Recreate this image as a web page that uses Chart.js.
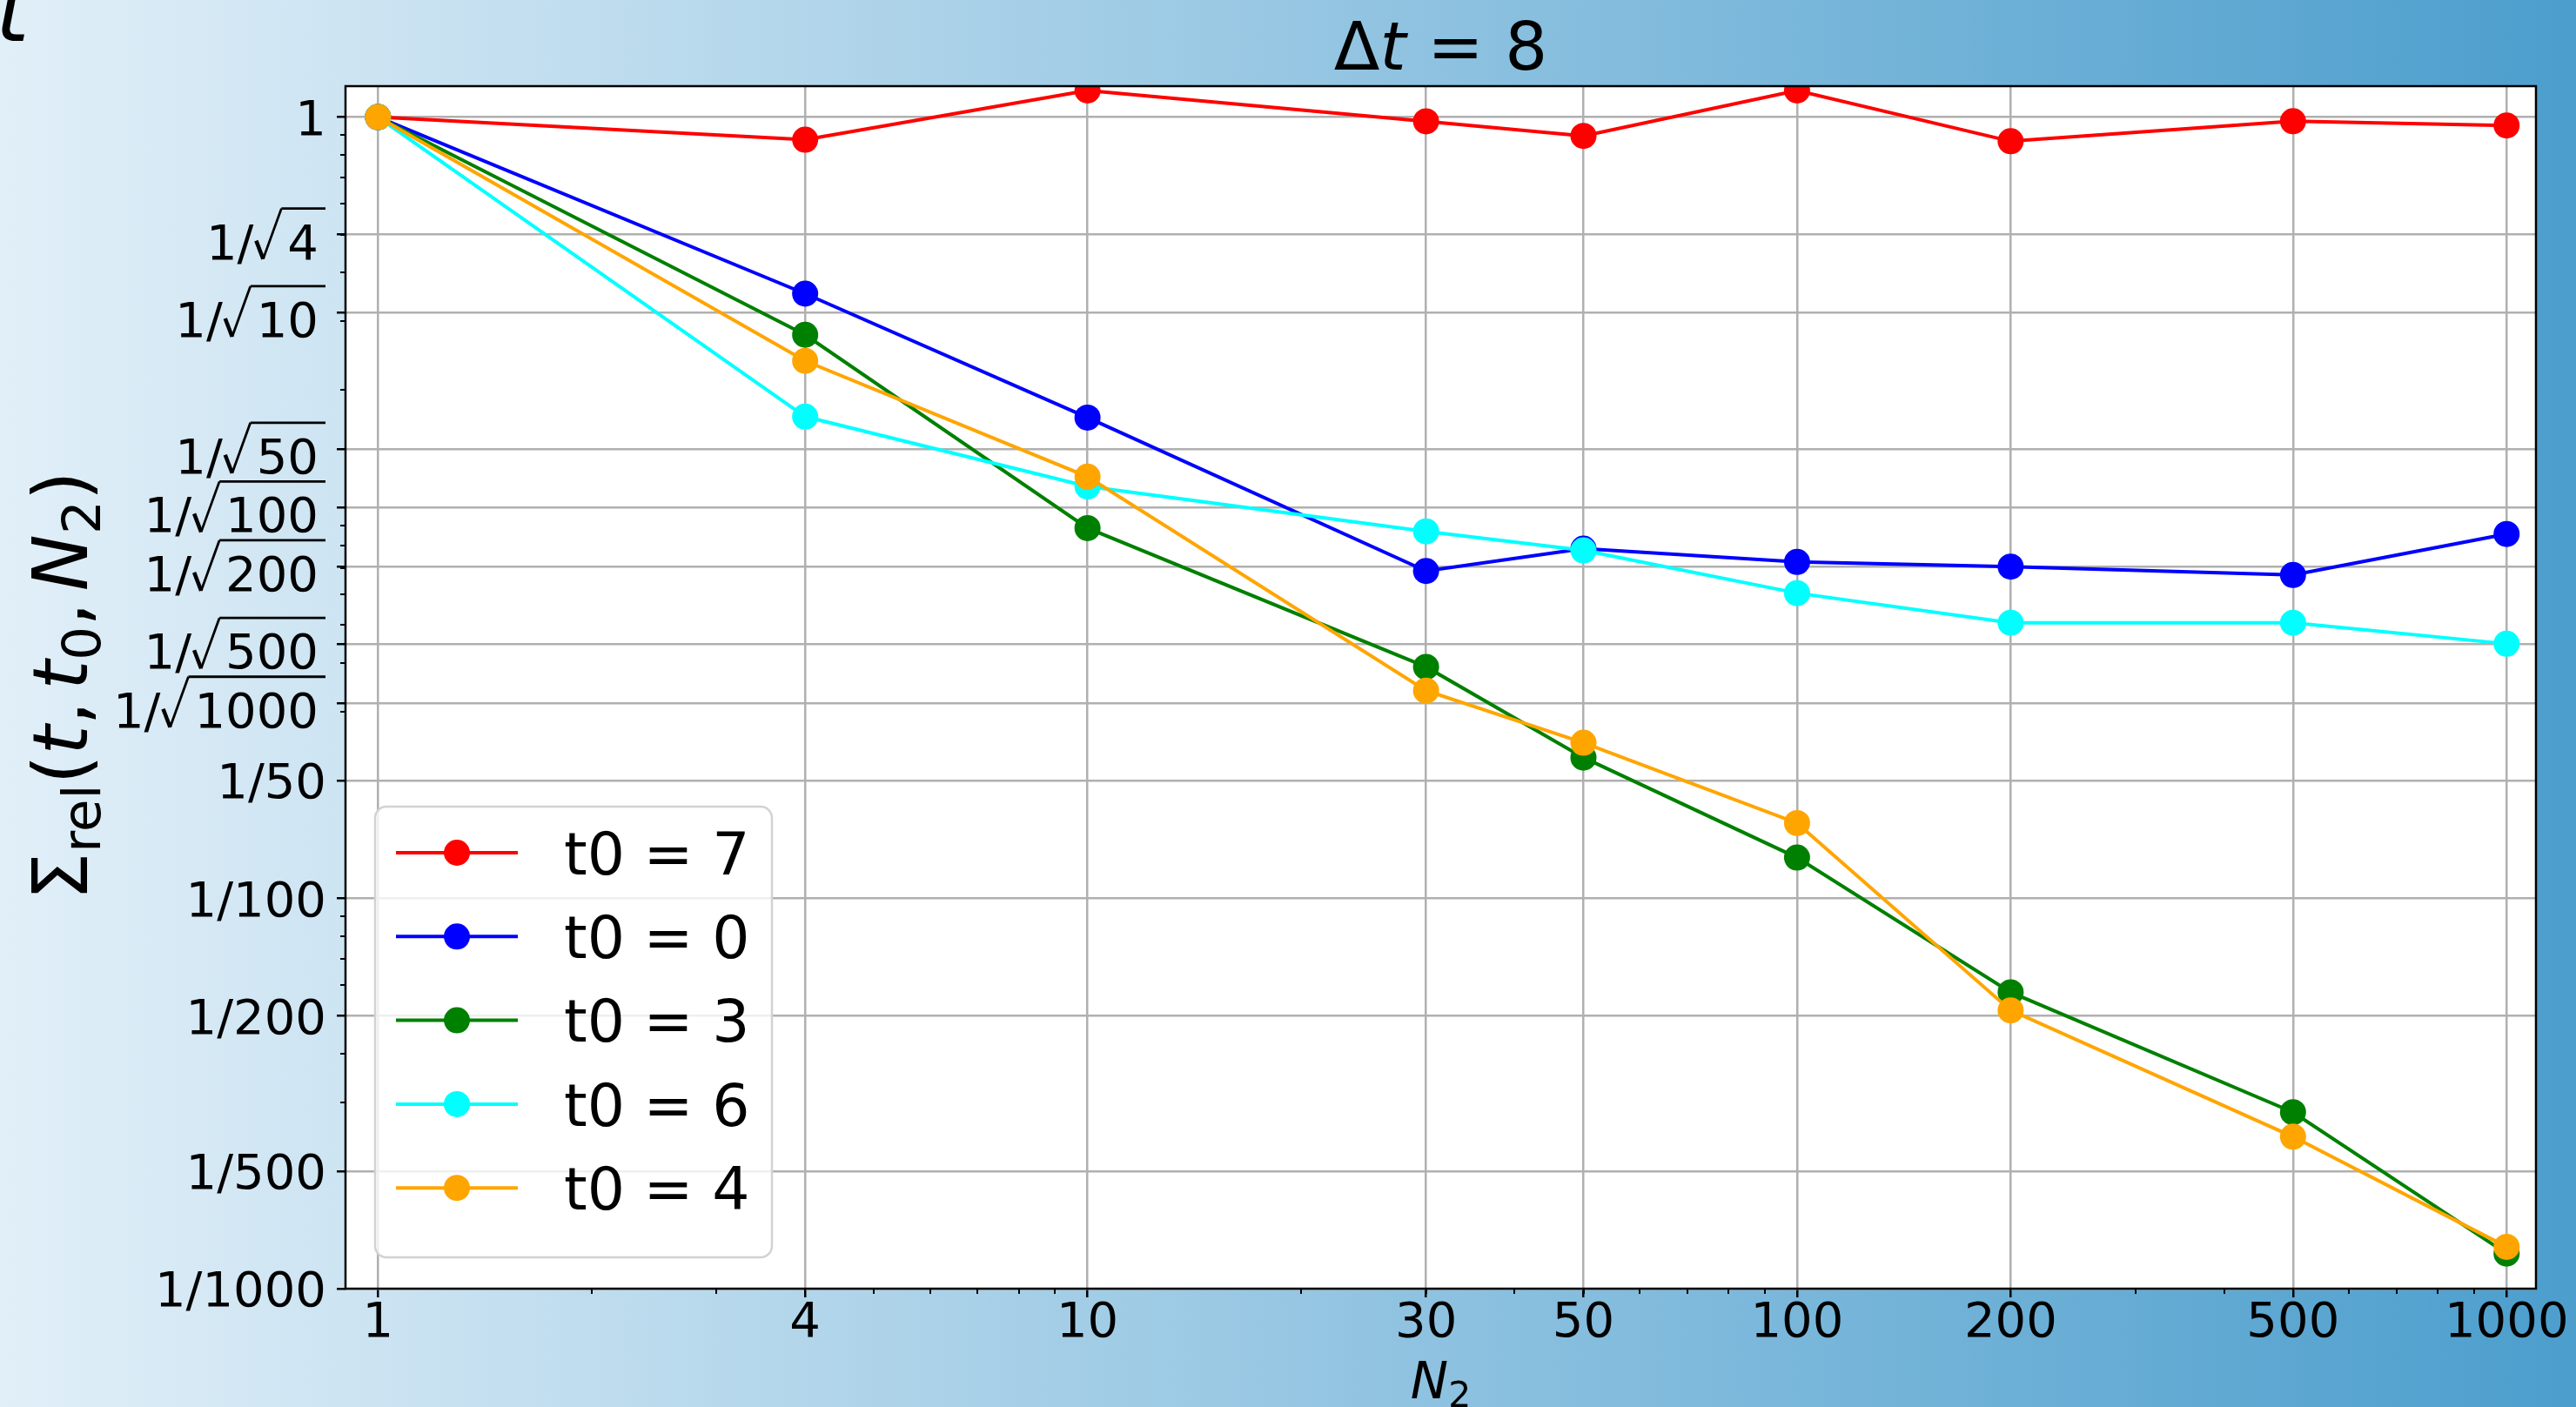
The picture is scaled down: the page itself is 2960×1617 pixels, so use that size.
<!DOCTYPE html>
<html>
<head>
<meta charset="utf-8">
<script src="https://cdn.jsdelivr.net/npm/chart.js@4.4.1/dist/chart.umd.min.js"></script>
<style>
  html, body { margin: 0; padding: 0; }
  body {
    width: 2960px; height: 1617px; overflow: hidden;
    background: linear-gradient(to right, #e1eff8, #4c9ecd);
  }
  canvas { display: block; }
</style>
</head>
<body>
<canvas id="chart" width="2960" height="1617"></canvas>
<script>
// x values (N2)
const n2Values = [1, 4, 10, 30, 50, 100, 200, 500, 1000];

// one series per t0
const t0Labels = ['t0 = 7', 't0 = 0', 't0 = 3', 't0 = 6', 't0 = 4'];
const t0Colors = ['#ff0000', '#0000ff', '#008000', '#00ffff', '#ffa500'];
const errT0_7 = [1, 0.875, 1.17, 0.975, 0.895, 1.17, 0.867, 0.976, 0.952];
const errT0_0 = [1, 0.353, 0.170, 0.0688, 0.0785, 0.0726, 0.0706, 0.0672, 0.0856];
const errT0_3 = [1, 0.277, 0.0886, 0.0391, 0.0229, 0.0127, 0.00574, 0.00283, 0.00123];
const errT0_6 = [1, 0.171, 0.1133, 0.0869, 0.0777, 0.0604, 0.0507, 0.0507, 0.0448];
const errT0_4 = [1, 0.2375, 0.120, 0.0340, 0.0250, 0.01557, 0.00516, 0.00245, 0.00128];
const t0Series = [errT0_7, errT0_0, errT0_3, errT0_6, errT0_4];

// tick labels
const xTickValues = [1, 4, 10, 30, 50, 100, 200, 500, 1000];
const xTickLabels = ['1', '4', '10', '30', '50', '100', '200', '500', '1000'];
const yTickValues = [1, 1 / Math.sqrt(4), 1 / Math.sqrt(10), 1 / Math.sqrt(50), 1 / Math.sqrt(100),
  1 / Math.sqrt(200), 1 / Math.sqrt(500), 1 / Math.sqrt(1000), 1 / 50, 1 / 100, 1 / 200, 1 / 500, 1 / 1000];
const yTickLabels = ['1', '1/√4', '1/√10', '1/√50', '1/√100', '1/√200', '1/√500', '1/√1000',
  '1/50', '1/100', '1/200', '1/500', '1/1000'];

const FONT = '"DejaVu Sans", "Noto Sans", sans-serif';

// log minor tick positions (2..9 x 10^k) inside a range
function minorTicks(min, max) {
  const out = [];
  for (let e = -4; e <= 4; e++) {
    for (let m = 2; m <= 9; m++) {
      const v = m * Math.pow(10, e);
      if (v > min && v < max) out.push(v);
    }
  }
  return out;
}

// draw a run of text pieces (italic / subscript) left to right
function drawRich(ctx, parts, x, y, size, center) {
  const fontOf = p => `${p.it ? 'italic ' : ''}${Math.round(size * (p.sub ? 0.7 : 1))}px ${FONT}`;
  let total = 0;
  parts.forEach(p => {
    ctx.font = fontOf(p);
    p.w = ctx.measureText(p.t).width + (p.gap || 0);
    total += p.w;
  });
  let cx = center ? x - total / 2 : x;
  ctx.textAlign = 'left';
  ctx.textBaseline = 'alphabetic';
  parts.forEach(p => {
    ctx.font = fontOf(p);
    ctx.fillText(p.t, cx, y + (p.sub ? size * 0.17 : 0));
    cx += p.w;
  });
}

// y tick label, with a drawn radical for the 1/sqrt(n) ones
function drawYLabel(ctx, label, y, right) {
  const f = 56;
  ctx.font = `${f}px ${FONT}`;
  ctx.fillStyle = '#000';
  ctx.strokeStyle = '#000';
  ctx.textBaseline = 'alphabetic';
  const k = label.indexOf('√');
  if (k < 0) {
    ctx.textAlign = 'right';
    ctx.fillText(label, right + 1, y + 0.364 * f);
    return;
  }
  const head = label.slice(0, k);
  const rad = label.slice(k + 1);
  const b = y + 28, over = y - 30;
  const textEnd = right - 8;
  const textStart = textEnd - ctx.measureText(rad).width;
  const oStart = textStart - 7;
  ctx.textAlign = 'left';
  ctx.fillText(rad, textStart, b);
  ctx.lineCap = 'butt';
  ctx.lineWidth = 2.8;
  ctx.beginPath();
  ctx.moveTo(oStart, over);
  ctx.lineTo(right, over);
  ctx.stroke();
  const vx = oStart - 21;
  ctx.beginPath();
  ctx.moveTo(vx, b);
  ctx.lineTo(oStart, over);
  ctx.stroke();
  ctx.lineWidth = 4.5;
  ctx.beginPath();
  ctx.moveTo(vx - 8, b - 21);
  ctx.lineTo(vx, b);
  ctx.stroke();
  ctx.textAlign = 'right';
  ctx.fillText(head, vx - 11, b);
}

const decorPlugin = {
  id: 'decor',
  beforeDraw(chart) {
    const { ctx, chartArea: a } = chart;
    ctx.save();
    ctx.fillStyle = '#ffffff';
    ctx.fillRect(a.left, a.top, a.right - a.left, a.bottom - a.top);
    ctx.restore();
  },
  afterDatasetsDraw(chart) {
    const { ctx, chartArea: a, scales } = chart;
    ctx.save();
    ctx.strokeStyle = '#000';
    // minor ticks
    ctx.lineWidth = 2;
    ctx.beginPath();
    minorTicks(scales.x.min, scales.x.max).forEach(v => {
      const px = Math.round(scales.x.getPixelForValue(v));
      ctx.moveTo(px, a.bottom);
      ctx.lineTo(px, a.bottom + 6);
    });
    minorTicks(scales.y.min, scales.y.max).forEach(v => {
      const py = Math.round(scales.y.getPixelForValue(v));
      ctx.moveTo(a.left - 6, py);
      ctx.lineTo(a.left, py);
    });
    ctx.stroke();
    // frame
    ctx.lineWidth = 2.5;
    ctx.strokeRect(a.left, a.top, a.right - a.left, a.bottom - a.top);
    ctx.restore();
  },
  afterDraw(chart) {
    const { ctx, chartArea: a, scales } = chart;
    ctx.save();
    ctx.fillStyle = '#000';

    // y tick labels
    yTickValues.forEach((v, i) => {
      drawYLabel(ctx, yTickLabels[i], scales.y.getPixelForValue(v), a.left - 23);
    });

    // title
    drawRich(ctx, [{ t: 'Δ' }, { t: 't', it: true }, { t: ' = 8' }], (a.left + a.right) / 2, 80, 77, true);

    // x axis title
    drawRich(ctx, [{ t: 'N', it: true }, { t: '2', sub: true }], (a.left + a.right) / 2, 1607, 58, true);

    // y axis title, rotated
    ctx.save();
    ctx.translate(100, (a.top + a.bottom) / 2 - 2);
    ctx.rotate(-Math.PI / 2);
    drawRich(ctx, [
      { t: 'Σ' }, { t: 'rel', sub: true }, { t: '(' }, { t: 't', it: true }, { t: ',', gap: 13 },
      { t: 't', it: true }, { t: '0', sub: true }, { t: ',', gap: 13 }, { t: 'N', it: true },
      { t: '2', sub: true }, { t: ')' }
    ], 0, 0, 87, true);
    ctx.restore();

    // stray italic t in the corner
    ctx.font = `italic 98px ${FONT}`;
    ctx.textAlign = 'left';
    ctx.textBaseline = 'alphabetic';
    ctx.fillText('t', -5, 47);

    // legend
    const lx = 431, ly = 927, lw = 456, lh = 518, r = 13;
    ctx.beginPath();
    ctx.roundRect(lx, ly, lw, lh, r);
    ctx.fillStyle = 'rgba(255,255,255,0.8)';
    ctx.fill();
    ctx.strokeStyle = '#d2d2d2';
    ctx.lineWidth = 2.5;
    ctx.stroke();
    t0Labels.forEach((lab, i) => {
      const ry = 980 + i * 96.3;
      ctx.strokeStyle = t0Colors[i];
      ctx.lineWidth = 4;
      ctx.beginPath();
      ctx.moveTo(455, ry);
      ctx.lineTo(595, ry);
      ctx.stroke();
      ctx.fillStyle = t0Colors[i];
      ctx.beginPath();
      ctx.arc(525, ry, 15, 0, Math.PI * 2);
      ctx.fill();
      ctx.fillStyle = '#000';
      ctx.font = `68px ${FONT}`;
      ctx.textAlign = 'left';
      ctx.textBaseline = 'alphabetic';
      ctx.fillText(lab, 648, ry + 0.364 * 68);
    });
    ctx.restore();
  }
};

const datasets = t0Series.map((s, i) => ({
  label: t0Labels[i],
  data: n2Values.map((x, j) => ({ x: x, y: s[j] })),
  borderColor: t0Colors[i],
  backgroundColor: t0Colors[i],
  pointBackgroundColor: t0Colors[i],
  pointBorderWidth: 0,
  pointRadius: 15,
  borderWidth: 4,
  fill: false,
  tension: 0,
  order: t0Series.length - i,
}));

const gridOpts = {
  color: '#b0b0b0', lineWidth: 2.5,
  drawTicks: true, tickLength: 10, tickColor: '#000', tickWidth: 2.5,
};

new Chart(document.getElementById('chart').getContext('2d'), {
  type: 'line',
  data: { datasets: datasets },
  options: {
    responsive: false,
    animation: false,
    devicePixelRatio: 1,
    layout: { padding: { top: 99, right: 46, bottom: 0, left: 0 } },
    plugins: {
      legend: { display: false },
      tooltip: { enabled: false },
      title: { display: false },
    },
    scales: {
      x: {
        type: 'logarithmic', position: 'bottom',
        min: 0.9, max: 1100, bounds: 'data',
        afterBuildTicks: s => { s.ticks = xTickValues.map(v => ({ value: v })); },
        afterFit: s => { s.height = 136; },
        grid: gridOpts,
        border: { display: false },
        ticks: {
          autoSkip: false, maxRotation: 0, minRotation: 0, color: '#000', padding: 2,
          font: { family: FONT, size: 56, lineHeight: 1 },
          callback: (v, i) => xTickLabels[i],
        },
      },
      y: {
        type: 'logarithmic', position: 'left',
        min: 0.001, max: 1.2, bounds: 'data',
        afterBuildTicks: s => { s.ticks = yTickValues.map(v => ({ value: v })); },
        afterFit: s => { s.width = 397; },
        grid: gridOpts,
        border: { display: false },
        ticks: { display: false },
      },
    },
  },
  plugins: [decorPlugin],
});
</script>
</body>
</html>
